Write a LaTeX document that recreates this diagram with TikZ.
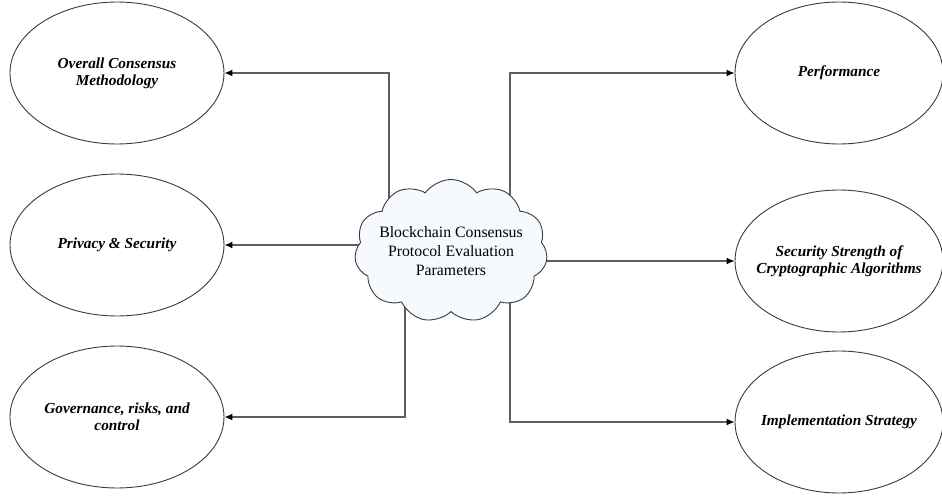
\documentclass[tikz,border=0pt]{standalone}
\usepackage{fontspec}
\setmainfont{Liberation Serif}
\usetikzlibrary{shapes.symbols,shapes.geometric,arrows.meta,backgrounds}
\definecolor{linegray}{HTML}{5E5E5E}
\definecolor{edgegray}{HTML}{3A3A3A}
\definecolor{cloudfill}{HTML}{F6F9FD}
\begin{document}
\begin{tikzpicture}[x=1pt,y=-1pt,
  oval/.style={ellipse,draw=edgegray,line width=0.9pt,minimum width=214pt,minimum height=142pt,
    inner xsep=-60pt,inner ysep=-20pt,align=center,font=\fontsize{15.3}{17}\selectfont\bfseries\itshape},
  ovalr/.style={oval,minimum width=208pt},
  conn/.style={draw=linegray,line width=1.3pt,-{Latex[length=8pt,width=7pt,color=black]}},
  puff/.style={cloud,cloud puffs=11,cloud puff arc=110,cloud ignores aspect,draw=edgegray,line width=0.9pt,
    fill=cloudfill,minimum width=193pt,minimum height=143pt,inner xsep=-40pt,inner ysep=-20pt,align=center,
    font=\fontsize{15.8}{19}\selectfont}]
\useasboundingbox (0,0) rectangle (942,497);
\node[oval] (ocm) at (117,73) {Overall Consensus\\Methodology};
\node[oval] (ps) at (117,245) {Privacy \& Security};
\node[oval] (grc) at (117,417) {Governance, risks, and\\control};
\node[ovalr] (perf) at (839,73) {Performance};
\node[ovalr] (ss) at (839,261) {Security Strength of\\Cryptographic Algorithms};
\node[ovalr] (is) at (839,422) {Implementation Strategy};
\node[puff] (c) at (451,251) {Blockchain Consensus\\Protocol Evaluation\\Parameters};
\coordinate (s1) at (389,251);
\coordinate (s2) at (451,245);
\coordinate (s3) at (405,251);
\coordinate (s4) at (510,251);
\coordinate (s5) at (451,261);
\coordinate (s6) at (510,260);
\begin{scope}[on background layer]
\draw[conn] (s1) |- (ocm.east);
\draw[conn] (s2) -- (ps.east);
\draw[conn] (s3) |- (grc.east);
\draw[conn] (s4) |- (perf.west);
\draw[conn] (s5) -- (ss.west);
\draw[conn] (s6) |- (is.west);
\end{scope}
\end{tikzpicture}
\end{document}
